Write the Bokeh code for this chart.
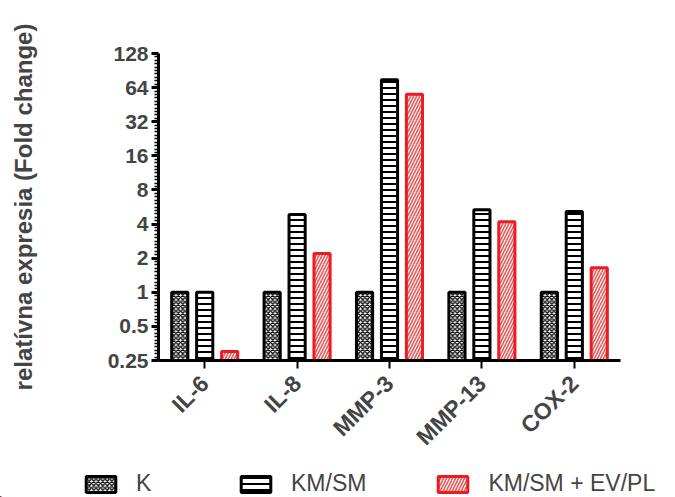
from bokeh.plotting import figure
from bokeh.layouts import column
from bokeh.models import FixedTicker, Legend, LegendItem
from bokeh.transform import dodge
from bokeh.embed import file_html
from bokeh.resources import INLINE
import math

# Relative expression (fold change) per gene and condition
genes = ["IL-6", "IL-8", "MMP-3", "MMP-13", "COX-2"]
k_vals = [1.0, 1.0, 1.0, 1.0, 1.0]
kmsm_vals = [1.0, 4.85, 75.0, 5.35, 5.15]
kmsm_evpl_vals = [0.30, 2.2, 56.0, 4.2, 1.65]

series_labels = ["K", "KM/SM", "KM/SM + EV/PL"]

ytick_values = [0.25, 0.5, 1, 2, 4, 8, 16, 32, 64, 128]
ytick_labels = ["0.25", "0.5", "1", "2", "4", "8", "16", "32", "64", "128"]

FONT = "Liberation Sans"
RED = "#ec1c24"

# visual style of each series (shared by the bars and the legend swatches)
styles = [
    dict(fill_color="white", line_color="black", line_width=3,
         hatch_pattern="diagonal_cross", hatch_color="black", hatch_scale=4.5, hatch_weight=1.3),
    dict(fill_color="white", line_color="black", line_width=3,
         hatch_pattern="horizontal_line", hatch_color="black", hatch_scale=6, hatch_weight=2),
    dict(fill_color="#fdf2f2", line_color=RED, line_width=3,
         hatch_pattern="right_diagonal_line", hatch_color="#e06060", hatch_scale=6, hatch_weight=1.6),
]

p = figure(
    x_range=genes,
    y_range=(0.25, 128),
    y_axis_type="log",
    width=675,
    height=467,
    output_backend="svg",
    toolbar_location=None,
    min_border_left=158,
    min_border_right=55,
    min_border_top=53,
    min_border_bottom=107,
)
p.frame_align = False
p.x_range.range_padding = 0
p.outline_line_color = None
p.xgrid.visible = False
p.ygrid.visible = False
p.background_fill_color = "white"
p.border_fill_color = "white"

source = dict(gene=genes, k=k_vals, kmsm=kmsm_vals, evpl=kmsm_evpl_vals)

bar_w = 0.175
off = 0.27
for col, dx, st in zip(["k", "kmsm", "evpl"], [-off, 0, off], styles):
    p.vbar(x=dodge("gene", dx, range=p.x_range), top=col, bottom=0.25,
           width=bar_w, source=source, **st)

# y axis: log2 scale, evenly spaced minor ticks within each doubling
minor = []
for k in range(-2, 7):
    for j in range(1, 10):
        minor.append(2 ** (k + j / 10))
p.yaxis.ticker = FixedTicker(ticks=ytick_values, minor_ticks=minor)
p.yaxis.major_label_overrides = {v: s for v, s in zip(ytick_values, ytick_labels)}
p.yaxis.axis_line_width = 3
p.yaxis.major_tick_line_width = 3
p.yaxis.major_tick_out = 7
p.yaxis.major_tick_in = 0
p.yaxis.minor_tick_line_width = 1.5
p.yaxis.minor_tick_out = 4
p.yaxis.minor_tick_in = 0
p.yaxis.major_label_text_font = FONT
p.yaxis.major_label_text_font_style = "bold"
p.yaxis.major_label_text_font_size = "21px"
p.yaxis.major_label_standoff = 3
p.yaxis.axis_label = "relatívna expresia (Fold change)"
p.yaxis.axis_label_text_font = FONT
p.yaxis.axis_label_text_font_style = "bold"
p.yaxis.axis_label_text_font_size = "24px"
p.yaxis.axis_label_standoff = 68

# x axis: rotated gene labels
p.xaxis.axis_line_width = 3
p.xaxis.major_tick_line_width = 2
p.xaxis.major_tick_out = 8
p.xaxis.major_tick_in = 0
p.xaxis.minor_tick_line_color = None
p.xaxis.major_label_orientation = math.pi / 4
p.xaxis.major_label_text_font = FONT
p.xaxis.major_label_text_font_style = "bold"
p.xaxis.major_label_text_font_size = "23px"
p.xaxis.major_label_standoff = 11

# legend strip below the chart; its proxy glyphs lie outside the strip's ranges
leg = figure(
    width=675, height=30, output_backend="svg", toolbar_location=None,
    x_range=(0, 1), y_range=(0, 1),
    min_border_left=0, min_border_right=0, min_border_top=0, min_border_bottom=0,
)
leg.frame_align = False
leg.axis.visible = False
leg.grid.visible = False
leg.outline_line_color = None
swatches = [leg.vbar(x=[-10], top=[-20], bottom=[-30], width=0.1, **st) for st in styles]

legend = Legend(
    items=[LegendItem(label=lbl, renderers=[r]) for lbl, r in zip(series_labels, swatches)],
    location=(82, 0),
    orientation="horizontal",
    background_fill_alpha=0,
    border_line_color=None,
    padding=0,
    margin=0,
    spacing=68,
    glyph_width=37,
    glyph_height=20,
    label_standoff=17,
    label_width=33,
    label_text_font=FONT,
    label_text_font_size="23px",
)
leg.add_layout(legend, "center")

layout = column(p, leg, spacing=0)
open("out.html", "w").write(file_html(layout, INLINE))
